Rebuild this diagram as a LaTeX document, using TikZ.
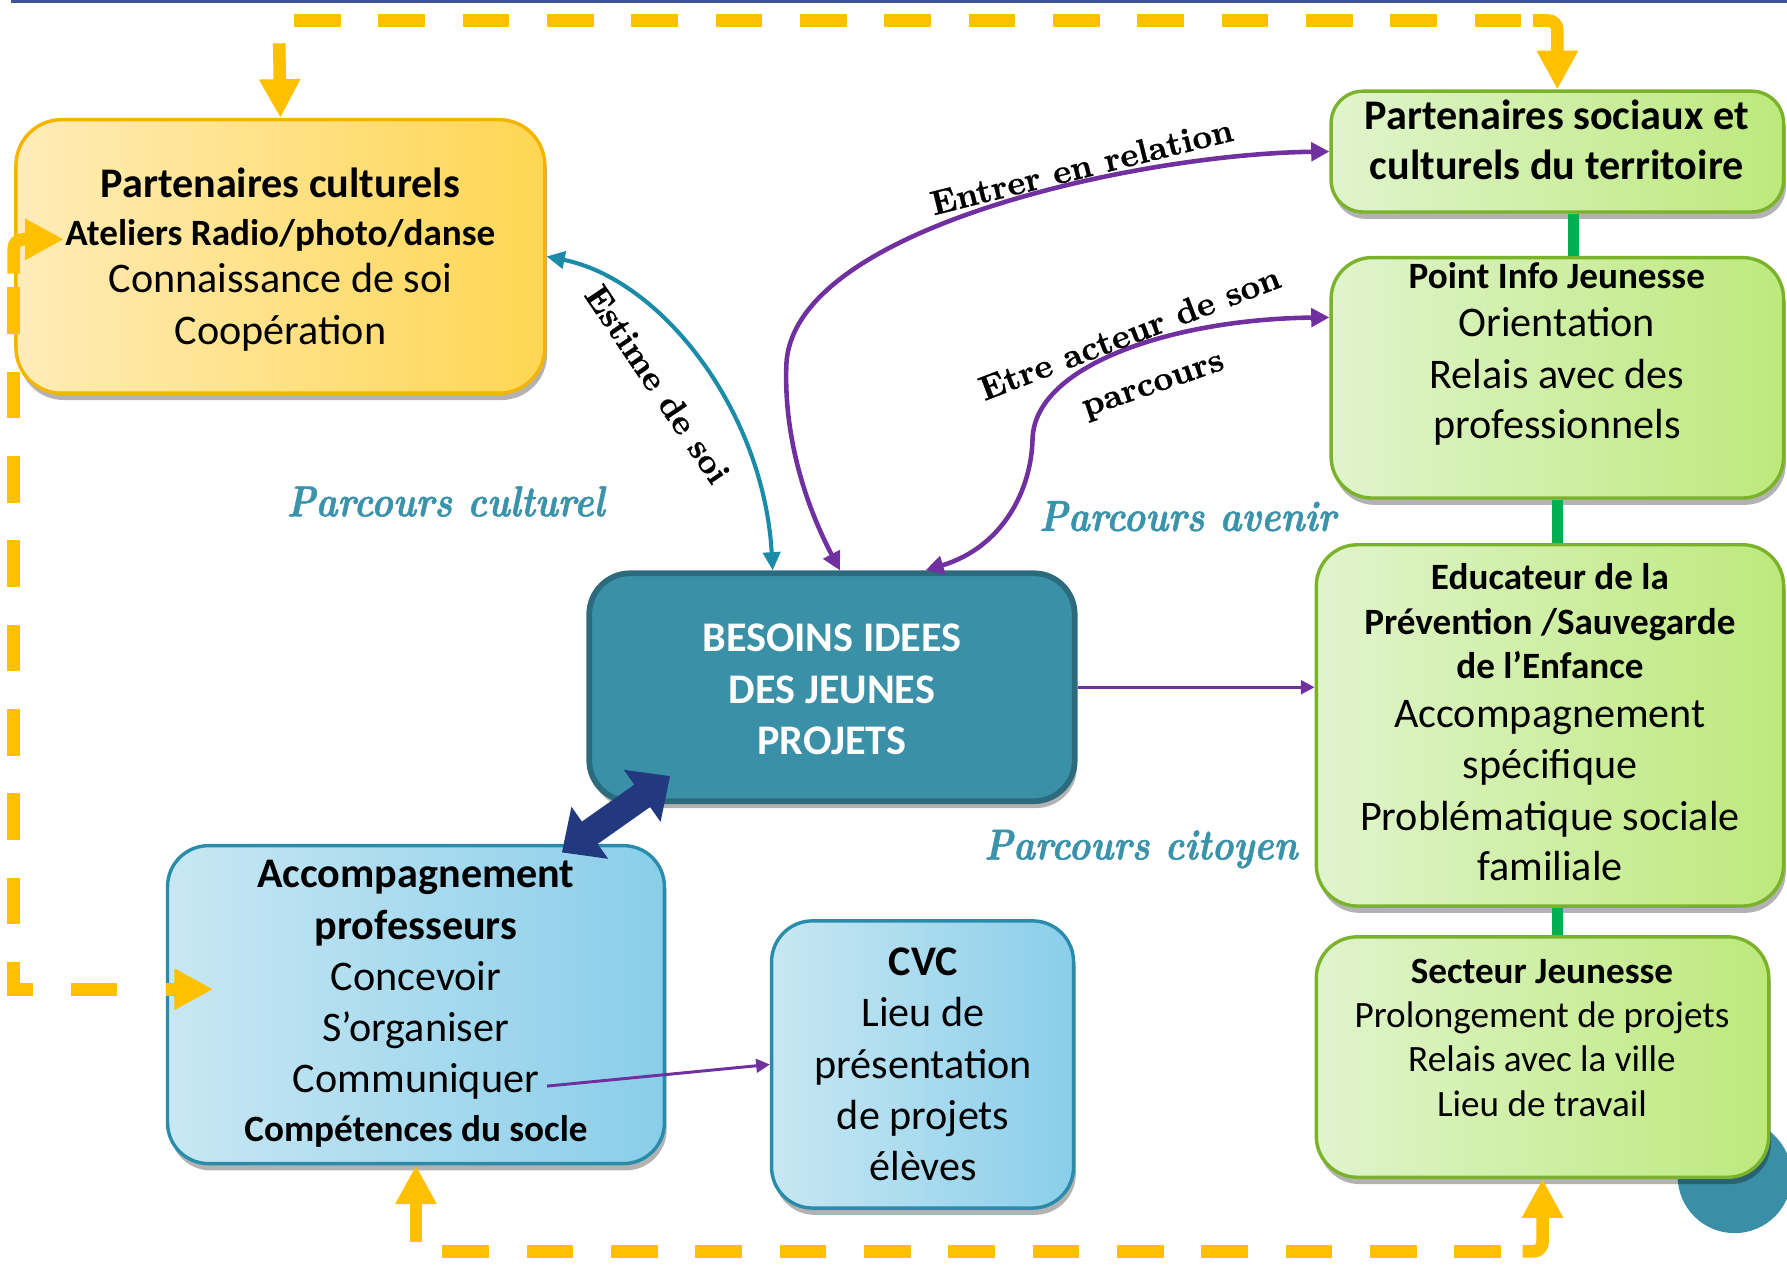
\documentclass[tikz,border=0pt]{standalone}
\usepackage{fontspec}
\newfontfamily\cfont{Carlito}
\newfontfamily\lmbx{lmroman10-bold.otf}[FakeBold=0.8]
\newfontfamily\lmbi{lmroman10-bolditalic.otf}[FakeBold=1.2]
\usetikzlibrary{arrows.meta,shadows,calc}
\definecolor{orng}{HTML}{FFC000}
\definecolor{purp}{HTML}{7030A0}
\definecolor{tealarr}{HTML}{1B8CA8}
\definecolor{parc}{HTML}{3A93AA}
\definecolor{gline}{HTML}{00B050}
\definecolor{bjfill}{HTML}{3A90A7}
\definecolor{bjdraw}{HTML}{2B6B7D}
\definecolor{navy}{HTML}{22397F}
\definecolor{topline}{HTML}{3F5597}
\definecolor{pcL}{HTML}{FFECB8}
\definecolor{pcR}{HTML}{FFD653}
\definecolor{pcD}{HTML}{F4B400}
\definecolor{gL}{HTML}{E0F4CD}
\definecolor{gR}{HTML}{BDE97C}
\definecolor{gD}{HTML}{7AB22A}
\definecolor{bL}{HTML}{C8E7F3}
\definecolor{bR}{HTML}{8ACEEA}
\definecolor{bD}{HTML}{2A8CAB}
\definecolor{circ}{HTML}{3A8FA6}
\newcommand\sml{\fontsize{16.3}{19.5}\selectfont}
\newcommand\labfont{\lmbx\fontsize{15}{18}\selectfont}
\newcommand\parcbox[1]{\scalebox{0.85}[1]{#1}}
\begin{document}
\begin{tikzpicture}[x=0.5pt,y=-0.5pt,
  box/.style={rounded corners=18pt, line width=1.5pt, inner sep=0pt,
    drop shadow={shadow xshift=1pt,shadow yshift=-3pt,opacity=0.3,fill=black}},
  ybox/.style={box, draw=pcD, left color=pcL, right color=pcR},
  gbox/.style={box, draw=gD, left color=gL, right color=gR},
  bbox/.style={box, draw=bD, left color=bL, right color=bR},
  tbox/.style={box, draw=bjdraw, fill=bjfill, line width=2.5pt},
  txt/.style={font=\cfont\fontsize{18.5}{22.5}\selectfont, align=center, inner sep=0pt},
  odash/.style={draw=orng, line width=5.5pt, dash pattern=on 20.5pt off 16.5pt},
  oarrow/.style={draw=orng, line width=5.5pt, -{Triangle[width=17pt,length=17pt]}},
  gconn/.style={draw=gline, line width=5pt},
  tealconn/.style={draw=tealarr, line width=1.8pt, {Triangle[width=7.5pt,length=8pt]}-{Triangle[width=7.5pt,length=8pt]}},
  purpconn/.style={draw=purp, line width=2pt, {Triangle[width=8pt,length=8pt]}-{Triangle[width=8pt,length=8pt]}},
  thinpurp/.style={draw=purp, line width=1.3pt, -{Triangle[width=6pt,length=6pt]}},
  navyconn/.style={draw=navy, line width=12pt, {Triangle[width=27pt,length=15pt]}-{Triangle[width=27pt,length=15pt]}},
  parcl/.style={text=parc, font=\lmbi\fontsize{19}{23}\selectfont, inner sep=0pt},
  clab/.style={font=\labfont, inner sep=0pt}
]
\useasboundingbox (0,0) rectangle (1568,1113);
\fill[white] (0,0) rectangle (1568,1113);

% background circle
\fill[circ] (1522,1032) circle[radius=25pt];
% top line
\draw[topline, line width=1.5pt] (10,1) -- (1568,1);

% boxes
\node[ybox, minimum width=232pt, minimum height=120pt, rounded corners=20pt] (pc) at (246,225) {};
\node[gbox, minimum width=198.5pt, minimum height=53pt, rounded corners=14pt] (ps) at (1366.5,133) {};
\node[gbox, minimum width=198.5pt, minimum height=105.5pt] (pij) at (1366.5,331.5) {};
\node[gbox, minimum width=205pt, minimum height=158.5pt] (ed) at (1360,636.5) {};
\node[gbox, minimum width=198.5pt, minimum height=105.5pt] (sj) at (1353.5,927.5) {};
\node[tbox, minimum width=213pt, minimum height=100pt] (bj) at (730,603) {};
\node[bbox, minimum width=218pt, minimum height=139.5pt] (ap) at (365,881.5) {};
\node[bbox, minimum width=132.5pt, minimum height=126pt] (cvc) at (809.5,934) {};

% texts
\node[txt, font=\cfont\fontsize{18.5}{21}\selectfont] (pct) at (246,227.5)
  {\bfseries Partenaires culturels\\ {\sml\bfseries Ateliers Radio/photo/danse}\\ Connaissance de soi\\[1.5pt] Coopération};
\node[txt, font=\cfont\fontsize{18.5}{22}\selectfont\bfseries] (pst) at (1366,123)
  {Partenaires sociaux et\\ culturels du territoire};
\node[txt, font=\cfont\fontsize{18.5}{21}\selectfont] (pijt) at (1366,310.5)
  {{\sml\bfseries Point Info Jeunesse}\\ Orientation\\[1.5pt] Relais avec des\\[1pt] professionnels};
\node[txt, font=\cfont\fontsize{18.5}{19.5}\selectfont] (edt) at (1360,633.5)
  {{\sml\bfseries Educateur de la}\\ {\sml\bfseries Prévention /Sauvegarde}\\ {\sml\bfseries de l’Enfance}\\[2pt] Accompagnement\\[3pt] spécifique\\[3pt] Problématique sociale\\[2.5pt] familiale};
\node[txt, font=\cfont\fontsize{16.3}{19.5}\selectfont] (sjt) at (1353,910.5)
  {\bfseries Secteur Jeunesse\\ Prolongement de projets\\ Relais avec la ville\\ Lieu de travail};
\node[txt, text=white, font=\cfont\fontsize{18.5}{22.5}\selectfont\bfseries] (bjt) at (730,605)
  {BESOINS IDEES\\ DES JEUNES\\ PROJETS};
\node[txt] (apt) at (365,881)
  {\bfseries Accompagnement\\ \bfseries professeurs\\ Concevoir\\ S’organiser\\ Communiquer\\[-1pt] {\sml\bfseries Compétences du socle}};
\node[txt] (cvct) at (810,934)
  {\bfseries CVC\\ Lieu de\\ présentation\\ de projets\\ élèves};

% parcours labels
\node[parcl] (lcul) at (391,440) {\parcbox{Parcours culturel}};
\node[parcl] (lave) at (1042,453) {\parcbox{Parcours avenir}};
\node[parcl] (lcit) at (1001,745) {\parcbox{Parcours citoyen}};

% green links
\draw[gconn] ($(ps.south)+(14,0)$) -- ($(pij.north)+(14,0)$);
\draw[gconn] (pij.south) -- (pij.south |- ed.north);
\draw[gconn] (ed.south -| pij.south) -- (sj.north -| pij.south);

% orange loop
\draw[odash] (258,18) -- (1335,18);
\draw[oarrow, rounded corners=4pt] (1345,18) -| (ps.north);
\draw[oarrow] (245,38) -- (pc.north);
\draw[odash] (12,252) -- (12,868) -- (122,868);
\draw[oarrow, rounded corners=4pt] (12,240) |- (56,210);
\draw[oarrow] (146,868) -- (187,868);
\draw[oarrow] (365,1090) -- (ap.south);
\draw[odash] (388,1098) -- (1330,1098);
\draw[oarrow, rounded corners=4pt] (1336,1098) -| (sj.south);

% connectors
\draw[tealconn] (pc.east) .. controls (580,245) and (670,360) .. ($(bj.north)+(-52,0)$);
\draw[purpconn] ($(bj.north)+(7,0)$) .. controls (700,430) and (688,370) .. (690,320)
   .. controls (695,200) and (1000,135) .. (ps.west);
\draw[purpconn] ($(bj.north)+(82,0)$) .. controls (880,480) and (905,430) .. (906,385)
   .. controls (908,320) and (1030,280) .. ($(pij.west)+(0,-53)$);
\draw[thinpurp] (bj.east) -- (bj.east -| ed.west);
\coordinate (comm) at (480,953);
\draw[thinpurp] (comm) -- (cvc.west);
\coordinate (ba1) at (493,748);
\coordinate (ba2) at (588,681);
\draw[navyconn] (ba1) -- (ba2);

% connector labels
\node[clab, rotate=14] (lent) at (949,146) {Entrer en relation};
\node[clab, rotate=-56] (lest) at (577,337) {Estime de soi};
\node[clab, rotate=21] (letr) at (991,292) {Etre acteur de son};
\node[clab, rotate=19] (lpar) at (1013,341) {parcours};
\end{tikzpicture}
\end{document}
